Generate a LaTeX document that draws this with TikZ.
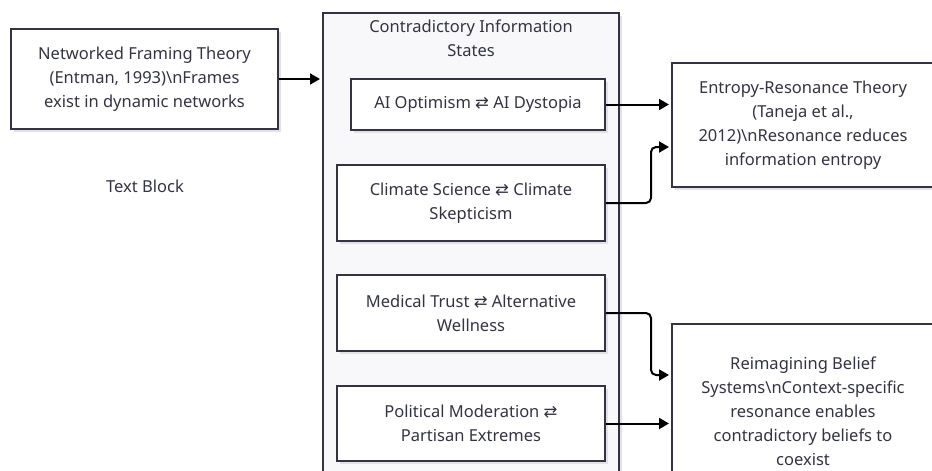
\documentclass[tikz,border=0pt]{standalone}
\usepackage{fontspec}
\setmainfont{Noto Sans}
\newfontfamily\symfont{DejaVu Sans}
\usetikzlibrary{arrows.meta,shadows}
\definecolor{ink}{HTML}{333344}
\definecolor{clusterfill}{HTML}{F8F8FA}
\definecolor{shadowc}{HTML}{E2E2E6}
\newcommand{\lr}{{\symfont\char"21C4}}
\tikzset{
  shad/.style={general shadow={shadow xshift=3pt, shadow yshift=-3pt, fill=shadowc, draw=none}},
  box/.style={draw=ink, line width=2pt, fill=white, text=ink, align=center,
    font=\fontsize{16.5}{24}\selectfont, inner sep=0pt, shad},
  cluster/.style={draw=ink, line width=2pt, fill=clusterfill, shad},
  plain/.style={text=ink, align=center, font=\fontsize{16.5}{24}\selectfont, inner sep=0pt},
  conn/.style={draw=black, line width=2pt, rounded corners=5pt,
    -{Triangle[length=10pt,width=11pt]}}
}
\begin{document}
\begin{tikzpicture}[x=1pt,y=-1pt]
\useasboundingbox (0,0) rectangle (932,471);
\clip (0,0) rectangle (932,471);
\fill[white] (0,0) rectangle (932,471);
% cluster
\node[cluster, minimum width=296pt, minimum height=507pt, inner sep=0pt] (clu) at (471,266.5) {};
\node[plain] (ctitle) at (471,38) {Contradictory Information\\States};
% nodes
\node[box, minimum width=267pt, minimum height=100pt] (nft) at (144.5,79)
  {Networked Framing Theory\\(Entman, 1993)\textbackslash nFrames\\exist in dynamic networks};
\node[plain] (tb) at (145,186) {Text Block};
\node[box, minimum width=254pt, minimum height=51pt] (ai) at (478,104.5)
  {AI Optimism \lr{} AI Dystopia};
\node[box, minimum width=268pt, minimum height=76pt] (clim) at (471,203)
  {Climate Science \lr{} Climate\\Skepticism};
\node[box, minimum width=268pt, minimum height=76pt] (med) at (471,313)
  {Medical Trust \lr{} Alternative\\Wellness};
\node[box, minimum width=268pt, minimum height=75pt] (pol) at (471,423.5)
  {Political Moderation \lr{}\\Partisan Extremes};
\node[box, minimum width=262pt, minimum height=124pt] (ent) at (803,125)
  {Entropy-Resonance Theory\\(Taneja et al.,\\2012)\textbackslash nResonance reduces\\information entropy};
\node[box, minimum width=262pt, minimum height=174pt] (rbs) at (803,411)
  {Reimagining Belief\\Systems\textbackslash nContext-specific\\resonance enables\\contradictory beliefs to\\coexist};
% connectors
\draw[conn] (nft.east) -- ([xshift=-2pt]nft.east -| clu.west);
\draw[conn] (ai.east) -- ([xshift=-2pt]ai.east -| ent.west);
\draw[conn] (clim.east) -- ++(45,0) |- ([xshift=-2pt,yshift=-22pt]ent.west);
\draw[conn] (med.east) -- ++(45,0) |- ([xshift=-2pt,yshift=36pt]rbs.west);
\draw[conn] (pol.east) -- ([xshift=-2pt]pol.east -| rbs.west);
\end{tikzpicture}
\end{document}
